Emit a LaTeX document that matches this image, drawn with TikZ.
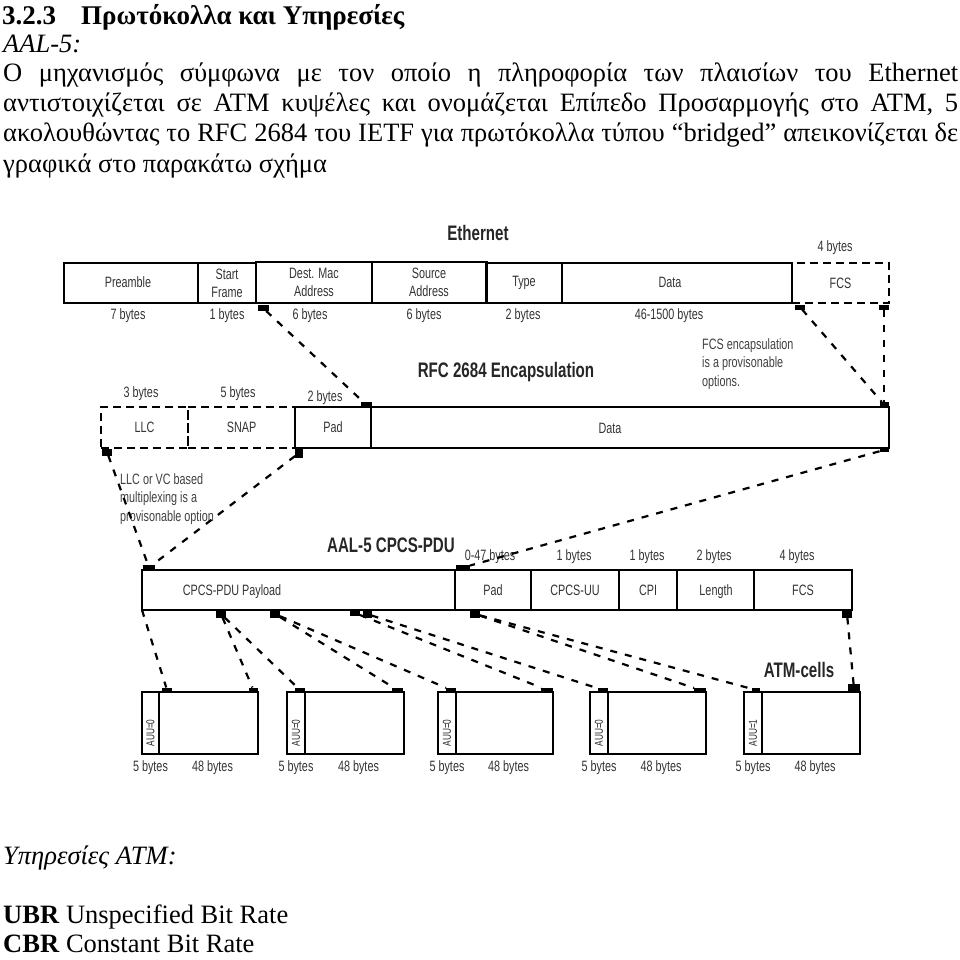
\documentclass[tikz,border=0pt]{standalone}
\usepackage{fontspec}
\setmainfont{Liberation Serif}
\newfontfamily\dg[FakeStretch=0.72]{Liberation Sans}
\tikzset{
 fld/.style={draw, line width=2pt, inner sep=0pt, outer sep=0pt, font=\dg\fontsize{15}{18}\selectfont, text=black!80, align=center, minimum height=40pt},
 dfld/.style={fld, dash pattern=on 8pt off 5pt},
 mk/.style={fill=black, inner sep=0pt, outer sep=0pt, minimum width=10pt, minimum height=5pt},
 lbl/.style={font=\dg\fontsize{15}{18}\selectfont, text=black!80, inner sep=0pt},
 ttl/.style={font=\dg\bfseries\fontsize{21}{24}\selectfont, text=black!85, inner sep=0pt},
 note/.style={font=\dg\fontsize{15}{18.5}\selectfont, text=black!75, align=left, inner sep=0pt, anchor=north west},
 dl/.style={line width=2.2pt, dash pattern=on 7pt off 8pt},
 body/.style={inner sep=0pt, anchor=base west, font=\fontsize{26.5}{30}\selectfont},
 cellb/.style={draw, line width=2pt, inner sep=0pt, outer sep=0pt, minimum height=62pt},
 auu/.style={rotate=90, font=\dg\fontsize{11.5}{13}\selectfont, text=black!85, inner sep=0pt},
}
\begin{document}
\begin{tikzpicture}[x=1pt,y=-1pt]
\useasboundingbox (0,0) rectangle (960,960);
% ---------- text ----------
\node[body, font=\fontsize{27}{30}\selectfont] (t0) at (2,25) {\textbf{3.2.3\hspace{25pt}Πρωτόκολλα και Υπηρεσίες}};
\node[body] (t1) at (3,53) {\textit{AAL-5:}};
\node[body] (p1) at (3,82) {\makebox[955pt][s]{Ο μηχανισμός σύμφωνα με τον οποίο η πληροφορία των πλαισίων του Ethernet}};
\node[body] (p2) at (3,112) {\makebox[955pt][s]{αντιστοιχίζεται σε ATM κυψέλες και ονομάζεται Επίπεδο Προσαρμογής στο ATM, 5}};
\node[body] (p3) at (3,142) {\makebox[955pt][s]{ακολουθώντας το RFC 2684 του IETF για πρωτόκολλα τύπου “bridged” απεικονίζεται δε}};
\node[body] (p4) at (3,172) {γραφικά στο παρακάτω σχήμα};
\node[body] (s1) at (3,864) {\textit{Υπηρεσίες ATM:}};
\node[body] (s2) at (3,923) {\textbf{UBR} Unspecified Bit Rate};
\node[body] (s3) at (3,952) {\textbf{CBR} Constant Bit Rate};
% ---------- Ethernet ----------
\node[ttl] (eth) at (478,233) {Ethernet};
\node[fld, minimum width=134pt] (pre) at (131,283) {};
\node[lbl] (preT) at (128,282) {Preamble};
\node[fld, minimum width=58pt] (sf) at (227,283) {Start\\Frame};
\node[fld, minimum width=116pt, minimum height=41pt] (dm) at (314,282.5) {Dest. Mac\\Address};
\node[fld, minimum width=115pt, minimum height=41pt] (sa) at (429,282.5) {Source\\Address};
\node[fld, minimum width=76pt] (ty) at (524,283) {Type};
\node[fld, minimum width=230pt] (da) at (677,283) {};
\node[lbl] (daT) at (670,282) {Data};
\node[dfld, minimum width=97pt] (fcs) at (840.5,283) {FCS};
\node[lbl] (b1) at (128,316) {7 bytes};
\node[lbl] (b2) at (227,316) {1 bytes};
\node[lbl] (b3) at (310,316) {6 bytes};
\node[lbl] (b4) at (424,316) {6 bytes};
\node[lbl] (b5) at (523,316) {2 bytes};
\node[lbl] (b6) at (669,316) {46-1500 bytes};
\node[lbl] (b7) at (835,248) {4 bytes};
\node[mk, minimum width=11pt, minimum height=6pt] (mDm) at (263,308) {};
\node[mk] (mFl) at (800,307) {};
\node[mk] (mFr) at (884,307) {};
% ---------- RFC 2684 ----------
\node[ttl] (rfc) at (506,372) {RFC 2684 Encapsulation};
\node[note] (fcsnote) at (702,338) {FCS encapsulation\\is a provisonable\\options.};
\node[dfld, minimum width=87pt, minimum height=41pt] (llc) at (144.5,427.5) {LLC};
\node[dfld, minimum width=107pt, minimum height=41pt] (snap) at (241.5,427.5) {SNAP};
\node[fld, minimum width=76pt, minimum height=41pt] (rpad) at (333,427.5) {Pad};
\node[fld, minimum width=518pt, minimum height=41pt] (rdata) at (630,427.5) {};
\node[lbl] (rdataT) at (610,428) {Data};
\node[lbl] (r1) at (141,394) {3 bytes};
\node[lbl] (r2) at (238,394) {5 bytes};
\node[lbl] (r3) at (325,398) {2 bytes};
\node[note] (llcnote) at (120,473) {LLC or VC based\\multiplexing is a\\provisonable option};
\node[mk, minimum width=11pt] (mPadTR) at (366,404.5) {};
\node[mk, minimum width=9pt] (mDTR) at (884,404.5) {};
\node[mk, minimum height=7pt] (mLlc) at (107,452) {};
\node[mk, minimum width=8pt, minimum height=9pt] (mSnap) at (299,453) {};
\node[mk, minimum width=9pt, minimum height=4pt] (mDBR) at (884,450) {};
% ---------- AAL-5 ----------
\node[ttl] (aal) at (391,545) {AAL-5 CPCS-PDU};
\node[fld, minimum width=313pt] (pay) at (298.5,590) {};
\node[lbl] (payT) at (232,592) {CPCS-PDU Payload};
\node[fld, minimum width=76pt] (apad) at (493,590) {Pad};
\node[fld, minimum width=88pt] (uu) at (575,590) {CPCS-UU};
\node[fld, minimum width=58pt] (cpi) at (648,590) {CPI};
\node[fld, minimum width=77pt] (len) at (715.5,590) {};
\node[lbl] (lenT) at (716,592) {Length};
\node[fld, minimum width=98pt] (afcs) at (803,590) {FCS};
\node[lbl] (a1) at (490,557) {0-47 bytes};
\node[lbl] (a2) at (574,557) {1 bytes};
\node[lbl] (a3) at (647,557) {1 bytes};
\node[lbl] (a4) at (714,557) {2 bytes};
\node[lbl] (a5) at (797,557) {4 bytes};
\node[mk, minimum width=12pt] (mPay) at (149,567.5) {};
\node[mk, minimum width=14pt] (mPad2) at (463,567.5) {};
\node[mk, minimum height=7pt] (mA) at (221,614) {};
\node[mk, minimum height=7pt] (mB) at (275,614) {};
\node[mk, minimum height=5pt] (mC) at (355,613) {};
\node[mk, minimum width=9pt, minimum height=7pt] (mD) at (367,614) {};
\node[mk, minimum height=7pt] (mE) at (475,614) {};
\node[mk, minimum height=7pt] (mF) at (847,614) {};
% ---------- ATM cells ----------
\node[ttl] (atm) at (799,670) {ATM-cells};
\foreach \i/\xa/\xd/\xb/\lab in {1/142/159/258/AUU=0, 2/287/305/404/AUU=0, 3/438/456/553/AUU=0, 4/590/608/706/AUU=0, 5/744/762/860/AUU=1}{
  \node[cellb, minimum width={(\xd-\xa)*1pt}] (h\i) at ({(\xa+\xd)/2},723) {};
  \node[cellb, minimum width={(\xb-\xd)*1pt}] (c\i) at ({(\xd+\xb)/2},723) {};
  \node[auu] (u\i) at ({(\xa+\xd)/2},733) {\lab};
  \node[lbl] (f\i) at ({(\xa+\xd)/2},768) {5 bytes};
  \node[lbl] (e\i) at ({(\xd+\xb)/2+4},768) {48 bytes};
}
\node[mk] (k1l) at (167,690) {};
\node[mk, minimum width=9pt] (k1r) at (253.5,690) {};
\node[mk] (k2l) at (300,690) {};
\node[mk, minimum width=11pt] (k2r) at (397.5,690) {};
\node[mk] (k3l) at (451,690) {};
\node[mk, minimum width=12pt] (k3r) at (547,690) {};
\node[mk] (k4l) at (603,690) {};
\node[mk, minimum width=12pt] (k4r) at (700,690) {};
\node[mk, minimum width=8pt] (k5l) at (756,690) {};
\node[mk, minimum width=12pt, minimum height=9pt] (k5r) at (854,688.5) {};
% ---------- connectors ----------
\draw[dl] (mDm) -- (mPadTR);
\draw[dl] (mFl) -- (mDTR);
\draw[dl] (mFr) -- (mDTR);
\draw[dl] (mLlc) -- (mPay);
\draw[dl] (mSnap) -- (mPay);
\draw[dl] (mDBR) -- (mPad2);
\draw[dl] (pay.south west) -- (k1l);
\draw[dl] (mA) -- (k1r);
\draw[dl] (mA) -- (k2l);
\draw[dl] (mB) -- (k2r);
\draw[dl] (mB) -- (k3l);
\draw[dl] (mC) -- (k3r);
\draw[dl] (mD) -- (k4l);
\draw[dl] (mE) -- (k4r);
\draw[dl] (mE) -- (k5l);
\draw[dl] (mF) -- (k5r);
\end{tikzpicture}
\end{document}
